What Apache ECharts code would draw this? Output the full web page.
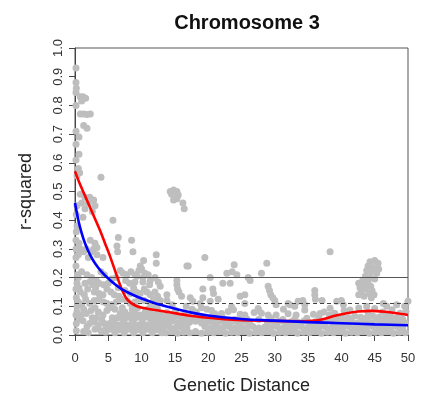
<!DOCTYPE html>
<html>
<head>
<meta charset="utf-8">
<script src="https://cdn.jsdelivr.net/npm/echarts@6/dist/echarts.min.js"></script>
<style>html,body{margin:0;padding:0;background:#fff}#c{width:424px;height:400px}</style>
</head>
<body>
<div id="c"></div>
<script>
// ---- data ----
const xTicks = [0, 5, 10, 15, 20, 25, 30, 35, 40, 45, 50];
const yTicks = [0.0, 0.1, 0.2, 0.3, 0.4, 0.5, 0.6, 0.7, 0.8, 0.9, 1.0];
const thresholdSolid = 0.2;
const thresholdDashed = 0.11;

const pointsHigh = [
[0.15,0.93],[0.15,0.88],[0.2,0.86],[0.15,0.845],[0.8,0.83],[1.2,0.83],[1.6,0.825],[1.0,0.815],[0.15,0.80],
[0.8,0.77],[1.3,0.77],[1.8,0.768],[2.3,0.77],[1.3,0.73],[1.8,0.72],[0.15,0.71],[0.6,0.69],[0.15,0.665],
[0.6,0.63],[0.15,0.61],[0.5,0.58],[0.7,0.565],[0.3,0.555],[3.9,0.55],
[14.3,0.50],[14.8,0.505],[15.3,0.50],[14.5,0.49],[15.5,0.488],[14.8,0.47],[15.3,0.475],[16.2,0.46],[16.4,0.44],
[0.8,0.49],[1.5,0.48],[2.2,0.48],[2.8,0.47],[1.0,0.46],[2.0,0.46],[3.0,0.45],[1.5,0.44],[2.6,0.43],[0.3,0.45],
[0.2,0.42],[1.2,0.41],[0.3,0.38],[0.2,0.36],
[5.7,0.40],[6.5,0.34],[8.5,0.33],[6.3,0.31],[6.4,0.29],[3.0,0.32],[3.3,0.305],[0.8,0.30],[1.3,0.29],[0.5,0.28],
[8.7,0.29],[4.2,0.27],[12.2,0.28],[12.2,0.25],[9.8,0.24],[16.8,0.24],[10.3,0.26],[19.5,0.27],[17.0,0.24],
[23.9,0.245],[28.8,0.25],[38.3,0.29],[2.0,0.27],[1.7,0.30],[2.5,0.29],[0.6,0.32],[2.3,0.33],[2.8,0.30],[3.3,0.28],
[0.15,0.33],[0.15,0.30],[0.15,0.27],[0.15,0.24],[0.4,0.21]
];

const pointsPeak = [
[44.3,0.255],[45.0,0.26],[45.5,0.25],[44.0,0.24],[44.8,0.235],[45.6,0.23],[43.8,0.225],[44.5,0.22],[45.3,0.215],
[43.6,0.205],[44.3,0.20],[45.0,0.195],[43.2,0.19],[44.0,0.185],[42.6,0.18],[43.4,0.175],[44.4,0.17],[42.8,0.165],
[43.6,0.16],[44.6,0.155],[43.0,0.15],[44.2,0.145],[44.9,0.14],[44.5,0.13],[43.4,0.135],[42.6,0.14]
];

const pointsNear = [
[1.0,0.22],[1.8,0.21],[3.9,0.22],[4.4,0.21],[6.8,0.225],[7.2,0.215],[7.8,0.21],[8.4,0.22],[9.0,0.21],[9.3,0.205],
[9.6,0.225],[10.0,0.23],[10.5,0.215],[11.0,0.21],[11.3,0.19],[10.2,0.20],
[0.5,0.20],[2.5,0.20],[3.2,0.19],[5.5,0.195],[6.2,0.20],[7.6,0.19],[9.0,0.185],[12.0,0.20],[12.5,0.185],
[0.3,0.18],[1.5,0.18],[2.2,0.185],[2.7,0.175],[3.6,0.18],[4.3,0.175],[5.0,0.18],[8.2,0.18],[10.2,0.185],[11.2,0.175],
[0.6,0.165],[1.9,0.16],[3.1,0.165],[4.8,0.16],[6.5,0.165],[7.5,0.155],[8.8,0.165],[9.8,0.145],[10.8,0.15],[12.4,0.135],
[0.8,0.15],[1.4,0.14],[2.9,0.15],[3.6,0.145],[4.2,0.14],[5.4,0.15],[5.9,0.14],[8.3,0.145],[9.2,0.15],[10.4,0.16],
[11.3,0.14],[12.0,0.15],[12.8,0.17],[0.15,0.16],
[1.6,0.125],[3.6,0.125],[4.3,0.115],[6.6,0.135],[7.8,0.12],[9.6,0.125],[10.4,0.12],[11.8,0.125],[12.8,0.12],
[0.2,0.13],[0.5,0.115],[1.0,0.105],[2.2,0.11],[2.9,0.12],[4.8,0.11],[5.5,0.105],[6.2,0.115],[7.0,0.125],[8.3,0.11],
[9.0,0.115],[11.3,0.11],[12.3,0.105],[0.3,0.10],
[1.3,0.09],[2.4,0.085],[3.0,0.095],[5.2,0.095],[7.1,0.095],[8.6,0.09],[9.4,0.095],[10.9,0.09],[12.4,0.09],
[0.3,0.08],[0.9,0.07],[1.7,0.075],[3.5,0.08],[4.2,0.07],[4.8,0.085],[6.0,0.09],[6.8,0.075],[7.5,0.08],[8.3,0.07],
[9.0,0.08],[9.8,0.07],[10.5,0.075],[11.3,0.08],[12.1,0.07],[12.8,0.075],[0.15,0.07],
[0.6,0.055],[2.6,0.06],[4.0,0.055],[5.6,0.06],[7.0,0.058],[8.6,0.056],[10.0,0.058],[11.6,0.056],[12.6,0.058],
[1.2,0.05],[3.2,0.06],[6.3,0.06],[7.7,0.06],[9.1,0.06],[10.5,0.062],[11.2,0.06],[12.0,0.052],
[0.2,0.04],[2.2,0.04],[2.9,0.045],[3.5,0.035],[5.2,0.04],[5.9,0.045],[6.6,0.035],[7.3,0.045],[8.0,0.035],[8.7,0.045],
[9.4,0.035],[10.1,0.045],[10.8,0.035],[11.5,0.045],[12.2,0.035],[12.9,0.045],[4.4,0.04],
[1.8,0.03],[4.7,0.025],[5.6,0.025],[3.0,0.02],[6.3,0.028],[7.0,0.027],[7.7,0.025],[8.4,0.028],[9.1,0.025],[9.8,0.027],
[10.5,0.025],[11.2,0.028],[11.9,0.025],[12.6,0.027],
[0.2,0.015],[1.3,0.012],[2.0,0.008],[3.9,0.015],[4.6,0.01],[5.3,0.02],[6.0,0.008],[6.7,0.018],[7.4,0.008],[8.1,0.02],
[8.8,0.008],[9.5,0.018],[10.2,0.008],[10.9,0.02],[11.6,0.008],[12.3,0.018],[13.0,0.008]
];

const pointsScatter = [
[13.8,0.14],[13.8,0.12],[15.3,0.19],[15.3,0.175],[15.4,0.16],[15.6,0.15],[16.0,0.135],[14.6,0.105],[16.7,0.10],
[17.3,0.13],[17.7,0.118],[18.8,0.11],[19.2,0.16],[19.2,0.13],[20.3,0.20],[20.7,0.16],[20.8,0.145],[20.3,0.118],
[21.5,0.125],[22.2,0.18],[23.3,0.18],[22.8,0.215],[23.6,0.22],[24.3,0.21],[24.8,0.135],[25.5,0.11],[25.5,0.14],
[26.0,0.20],[26.3,0.19],[28.0,0.215],[29.0,0.17],[29.2,0.155],[29.4,0.14],[29.7,0.13],[30.0,0.12],[30.2,0.105],
[32.0,0.11],[32.3,0.105],[33.0,0.10],[33.5,0.118],[34.2,0.12],[34.5,0.105],[36.0,0.155],[36.0,0.14],[36.1,0.125],
[37.1,0.12],[39.3,0.118],[40.0,0.12],[40.3,0.105],[46.8,0.10],[48.3,0.105],[49.5,0.10],[50.0,0.118],[46.3,0.11],
[19.0,0.095],[23.5,0.098],[27.5,0.092],[31.3,0.09],[38.3,0.093],
[10.6,0.085],[11.5,0.095],[12.5,0.08],[14.5,0.072],[17.0,0.07],[17.6,0.09],[20.5,0.085],[22.0,0.075],[23.8,0.088],
[25.5,0.07],[27.6,0.085],[29.0,0.07],[33.2,0.07],[36.8,0.075],[38.2,0.07],[44.0,0.078],[47.0,0.072]
];

const pointsBand = [
[13.6,0.008],[14.5,0.012],[15.4,0.006],[16.3,0.010],[17.2,0.008],[18.1,0.012],[19.0,0.006],[19.9,0.010],[20.8,0.008],
[21.7,0.012],[22.6,0.006],[23.5,0.010],[24.4,0.008],[25.3,0.012],[26.2,0.006],[27.1,0.010],[28.0,0.008],[28.9,0.012],
[29.8,0.006],[30.7,0.010],[31.6,0.008],[32.5,0.012],[33.4,0.006],[34.3,0.010],[35.2,0.008],[36.1,0.012],[37.0,0.006],
[37.9,0.010],[38.8,0.008],[39.7,0.012],[40.6,0.006],[41.5,0.010],[42.4,0.008],[43.3,0.012],[44.2,0.006],[45.1,0.010],
[46.0,0.008],[46.9,0.012],[47.8,0.006],[48.7,0.010],[49.6,0.008],
[13.2,0.026],[14.1,0.030],[15.0,0.024],[15.9,0.028],[16.8,0.026],[19.5,0.030],[20.4,0.024],[21.3,0.028],[22.2,0.026],
[23.1,0.030],[24.0,0.024],[24.9,0.028],[25.8,0.026],[26.7,0.030],[27.6,0.024],[28.5,0.028],[29.4,0.026],[30.3,0.030],
[31.2,0.024],[32.1,0.028],[33.0,0.026],[33.9,0.030],[34.8,0.024],[35.7,0.028],[36.6,0.026],[37.5,0.030],[38.4,0.024],
[39.3,0.028],[40.2,0.026],[41.1,0.030],[42.0,0.024],[42.9,0.028],[43.8,0.026],[44.7,0.030],[45.6,0.024],[46.5,0.028],
[47.4,0.026],[48.3,0.030],[49.2,0.024],
[13.6,0.044],[14.5,0.048],[15.4,0.042],[16.3,0.046],[17.2,0.044],[18.1,0.048],[19.0,0.042],[19.9,0.046],[20.8,0.044],
[21.7,0.048],[22.6,0.042],[23.5,0.046],[24.4,0.044],[25.3,0.048],[26.2,0.042],[28.9,0.046],[29.8,0.044],[30.7,0.048],
[31.6,0.042],[32.5,0.046],[33.4,0.044],[34.3,0.048],[35.2,0.042],[36.1,0.046],[37.0,0.044],[37.9,0.048],[38.8,0.042],
[39.7,0.046],[40.6,0.044],[41.5,0.048],[42.4,0.042],[43.3,0.046],[44.2,0.044],[45.1,0.048],[46.0,0.042],[46.9,0.046],
[47.8,0.044],[48.7,0.048],[49.6,0.042],
[13.2,0.062],[14.1,0.058],[15.0,0.064],[15.9,0.060],[16.8,0.062],[17.7,0.058],[18.6,0.060],[19.5,0.056],[20.4,0.060],
[21.3,0.056],[22.2,0.058],[24.0,0.054],[25.8,0.056],[27.6,0.054],[29.4,0.058],[31.2,0.054],[33.0,0.056],[34.8,0.058],
[36.6,0.060],[38.4,0.062],[39.3,0.058],[40.2,0.064],[41.1,0.060],[42.0,0.066],[42.9,0.062],[43.8,0.060],[44.7,0.066],
[45.6,0.062],[46.5,0.058],[47.4,0.064],[48.3,0.060],[49.2,0.056],
[13.8,0.078],[15.1,0.085],[16.5,0.076],[18.2,0.080],[19.8,0.090],[21.0,0.074],[23.0,0.082],[24.8,0.072],[26.9,0.078],
[28.0,0.076],[30.2,0.070],[32.0,0.074],[34.5,0.087],[35.8,0.072],[37.4,0.080],[39.0,0.076],[40.4,0.085],[41.3,0.087],
[42.6,0.094],[43.8,0.100],[45.0,0.092],[46.2,0.080],[47.6,0.088],[48.8,0.076],[49.7,0.082]
];

const redX = [0, 0.75, 1.5, 2.25, 3, 3.75, 4.5, 5.25, 6, 6.6, 7.2, 7.8, 8.5, 9.3, 10.5, 12, 14, 17, 20, 23, 26, 30, 34, 36, 37.5, 39, 40.8, 42.5, 44.5, 46.5, 48.3, 50];
const redY = [0.57, 0.525, 0.485, 0.445, 0.405, 0.365, 0.32, 0.275, 0.225, 0.185, 0.15, 0.125, 0.11, 0.10, 0.093, 0.087, 0.08, 0.068, 0.06, 0.054, 0.051, 0.049, 0.048, 0.05, 0.057, 0.067, 0.076, 0.082, 0.084, 0.081, 0.076, 0.07];
const blueX = [0, 0.5, 1, 1.5, 2.25, 3, 4, 5, 6, 7, 8.5, 10, 12, 14.5, 17.5, 20, 23, 26, 30, 35, 40, 45, 50];
const blueY = [0.46, 0.40, 0.355, 0.32, 0.28, 0.25, 0.22, 0.197, 0.177, 0.16, 0.142, 0.127, 0.111, 0.095, 0.078, 0.068, 0.06, 0.054, 0.05, 0.045, 0.041, 0.037, 0.034];

// ---- chart ----
const FONT = "'Liberation Sans', Arial, sans-serif";
const allPoints = pointsBand.concat(pointsNear, pointsScatter, pointsPeak, pointsHigh);
const zip = (xs, ys) => xs.map((x, i) => [x, ys[i]]);

const chart = echarts.init(document.getElementById('c'), null, { renderer: 'canvas' });
chart.setOption({
  animation: false,
  backgroundColor: '#ffffff',
  title: {
    text: 'Chromosome 3',
    left: 242, top: 8, textAlign: 'center',
    textStyle: { fontFamily: FONT, fontSize: 20, fontWeight: 'bold', color: '#111' }
  },
  grid: {
    left: 75, right: 16, top: 48, bottom: 63,
    show: true, borderColor: '#555', borderWidth: 1, backgroundColor: 'transparent'
  },
  xAxis: {
    type: 'value', min: xTicks[0], max: xTicks[xTicks.length - 1], interval: 5,
    name: 'Genetic Distance', nameLocation: 'middle', nameGap: 42,
    nameTextStyle: { fontFamily: FONT, fontSize: 18, color: '#222' },
    axisLine: { show: true, lineStyle: { color: '#444' } },
    axisTick: { show: true, length: 6, lineStyle: { color: '#444' } },
    axisLabel: { fontFamily: FONT, fontSize: 13, color: '#333', margin: 17 },
    splitLine: { show: false }
  },
  yAxis: {
    type: 'value', min: yTicks[0], max: yTicks[yTicks.length - 1], interval: 0.1,
    name: 'r-squared', nameLocation: 'middle', nameGap: 40, nameRotate: 90,
    nameTextStyle: { fontFamily: FONT, fontSize: 18, color: '#222' },
    axisLine: { show: true, lineStyle: { color: '#444' } },
    axisTick: { show: true, length: 6, lineStyle: { color: '#444' } },
    axisLabel: { fontFamily: FONT, fontSize: 13, color: '#333', margin: 10, rotate: 90,
      formatter: v => v.toFixed(1) },
    splitLine: { show: false }
  },
  series: [
    {
      type: 'scatter', data: allPoints, symbol: 'circle', symbolSize: 7,
      itemStyle: { color: '#bebebe', opacity: 1 }, silent: true, z: 2
    },
    {
      type: 'line', data: [], silent: true, z: 4,
      markLine: {
        silent: true, symbol: 'none', label: { show: false },
        data: [
          { yAxis: thresholdSolid, lineStyle: { type: 'solid', color: '#555', width: 1.2 } },
          { yAxis: thresholdDashed, lineStyle: { type: [4, 3], color: '#444', width: 1.2 } }
        ]
      }
    },
    {
      type: 'line', data: zip(redX, redY), showSymbol: false, smooth: 0.25,
      lineStyle: { color: '#ff0000', width: 2.6 }, silent: true, z: 6
    },
    {
      type: 'line', data: zip(blueX, blueY), showSymbol: false, smooth: 0.25,
      lineStyle: { color: '#0000ff', width: 2.6 }, silent: true, z: 7
    }
  ]
});
</script>
</body>
</html>
